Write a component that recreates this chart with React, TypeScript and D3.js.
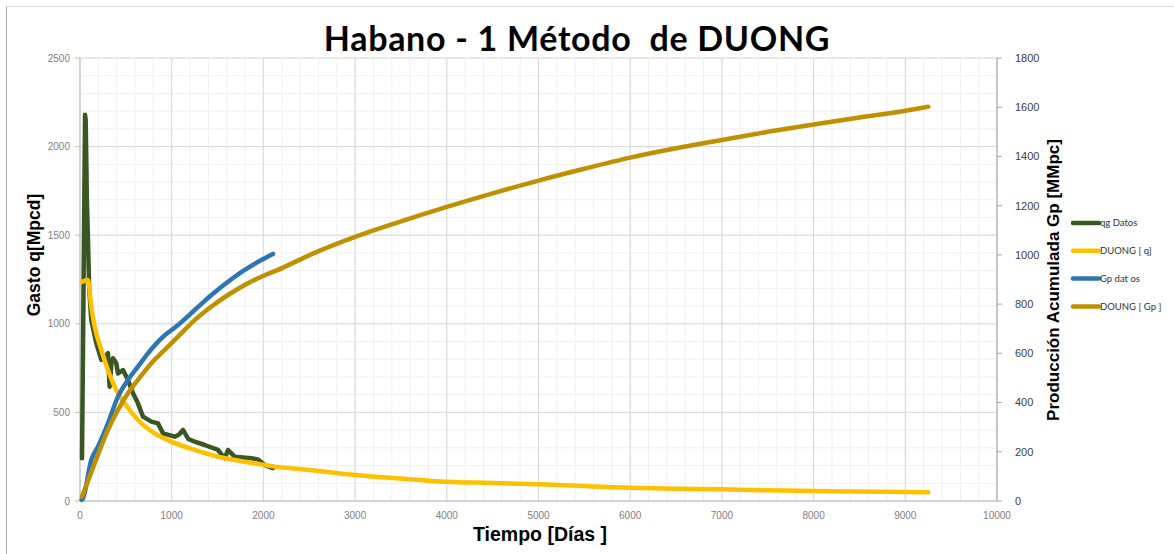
import React from 'react'
import * as d3 from 'd3'

const width = 1174
const height = 554
const margin = {top: 58, right: 177, bottom: 53, left: 80}
const innerWidth = width - margin.left - margin.right
const innerHeight = height - margin.top - margin.bottom

// qg Datos (Mpcd)
const qgDays = [22, 30, 55, 62, 75, 87, 100, 123, 178, 233, 287, 305, 323, 345, 360, 396, 414, 469, 523, 578, 632, 687, 778, 851, 905, 1033, 1080, 1123, 1180, 1251, 1360, 1505, 1578, 1614, 1687, 1868, 1941, 2014, 2105]
const qgValues = [241, 700, 2180, 2150, 1700, 1473, 1200, 1021, 890, 796, 824, 834, 645, 790, 805, 777, 720, 739, 683, 608, 551, 476, 448, 438, 382, 363, 375, 401, 350, 335, 316, 288, 241, 288, 250, 241, 235, 203, 186]

// DUONG [q]
const duongQDays = [22, 87, 123, 160, 233, 305, 378, 487, 632, 814, 996, 1251, 1505, 1796, 2123, 2508, 3000, 3500, 3991, 4500, 5006, 5500, 5998, 6500, 7001, 7500, 7993, 8500, 9250]
const duongQValues = [1237, 1247, 1097, 984, 852, 739, 645, 551, 457, 382, 335, 288, 250, 222, 194, 175, 147, 127, 109, 102, 94, 84, 75, 69, 66, 60, 56, 54, 49]

// Gp datos (MMpc)
const gpDays = [18, 33, 123, 196, 305, 414, 523, 632, 741, 887, 1069, 1251, 1433, 1614, 1796, 1977, 2105]
const gpValues = [4, 11, 167, 221, 316, 424, 492, 546, 600, 661, 715, 776, 837, 891, 939, 979, 1004]

// DOUNG [Gp]
const duongGpDays = [22, 160, 305, 414, 523, 632, 778, 923, 1069, 1251, 1433, 1614, 1796, 1977, 2159, 2508, 3000, 3500, 4000, 4500, 5000, 5500, 6000, 6500, 7000, 7500, 8000, 8500, 9000, 9250]
const duongGpValues = [18, 153, 289, 370, 438, 492, 560, 614, 668, 735, 790, 837, 878, 911, 939, 1000, 1073, 1136, 1195, 1250, 1302, 1350, 1395, 1433, 1467, 1500, 1530, 1558, 1586, 1602]

const xTicks = [0, 1000, 2000, 3000, 4000, 5000, 6000, 7000, 8000, 9000, 10000]
const yLeftTicks = [0, 500, 1000, 1500, 2000, 2500]
const yRightTicks = [0, 200, 400, 600, 800, 1000, 1200, 1400, 1600, 1800]

const legendItems = [
  {label: 'qg Datos', color: '#385723'},
  {label: 'DUONG [ q]', color: '#FFC000'},
  {label: 'Gp dat os', color: '#2E75B6'},
  {label: 'DOUNG [ Gp ]', color: '#BF9000'},
]

const x = d3.scaleLinear().domain([0, 10000]).range([0, innerWidth])
const yLeft = d3.scaleLinear().domain([0, 2500]).range([innerHeight, 0])
const yRight = d3.scaleLinear().domain([0, 1800]).range([innerHeight, 0])

const zip = (a: number[], b: number[]) => a.map((d, i) => [d, b[i]] as [number, number])

const lineLeft = d3.line<[number, number]>().x(d => x(d[0])).y(d => yLeft(d[1]))
const lineLeftSmooth = d3.line<[number, number]>().x(d => x(d[0])).y(d => yLeft(d[1])).curve(d3.curveMonotoneX)
const lineRight = d3.line<[number, number]>().x(d => x(d[0])).y(d => yRight(d[1])).curve(d3.curveMonotoneX)

const tickFont = '"Liberation Sans", Arial, sans-serif'

export default function App() {
  const minorX = d3.range(0, 10001, 200)
  const minorY = d3.range(0, 2501, 100)
  return (
    <div style={{position: 'absolute', left: 0, top: 0}}>
      <svg width={width} height={height} style={{display: 'block', background: '#fff'}}>
        <line x1={6.5} y1={6.5} x2={width} y2={6.5} stroke="#d9d9d9" />
        <line x1={6.5} y1={6.5} x2={6.5} y2={height} stroke="#a6a6a6" />
        <text
          x={577}
          y={51}
          textAnchor="middle"
          style={{whiteSpace: 'pre'}}
          fontFamily='Lato, "Open Sans", sans-serif'
          fontWeight="bold"
          fontSize={34}
          letterSpacing={0.7}
          fill="#000"
        >
          {'Habano - 1 Método  de DUONG'}
        </text>
        <g transform={`translate(${margin.left},${margin.top})`}>
          {minorX.map(v => (
            <line key={'mx' + v} x1={x(v)} x2={x(v)} y1={0} y2={innerHeight} stroke="#f0f0f0" />
          ))}
          {minorY.map(v => (
            <line key={'my' + v} x1={0} x2={innerWidth} y1={yLeft(v)} y2={yLeft(v)} stroke="#f0f0f0" />
          ))}
          {xTicks.map(v => (
            <line key={'gx' + v} x1={x(v)} x2={x(v)} y1={0} y2={innerHeight} stroke="#d9d9d9" />
          ))}
          {yLeftTicks.map(v => (
            <line key={'gy' + v} x1={0} x2={innerWidth} y1={yLeft(v)} y2={yLeft(v)} stroke="#d9d9d9" />
          ))}

          {/* left axis */}
          <line x1={0} x2={0} y1={0} y2={innerHeight} stroke="#bfbfbf" />
          {yLeftTicks.map(v => (
            <g key={'yl' + v} transform={`translate(0,${yLeft(v)})`}>
              <line x1={-5} x2={0} stroke="#bfbfbf" />
              <text x={-10} dy="0.35em" textAnchor="end" fontFamily={tickFont} fontSize={10} fill="#808080">
                {v}
              </text>
            </g>
          ))}
          {/* bottom axis */}
          <line x1={0} x2={innerWidth} y1={innerHeight} y2={innerHeight} stroke="#bfbfbf" />
          {xTicks.map(v => (
            <text key={'xt' + v} x={x(v)} y={innerHeight + 18} textAnchor="middle" fontFamily={tickFont} fontSize={10} fill="#808080">
              {v}
            </text>
          ))}
          {/* right axis */}
          <line x1={innerWidth} x2={innerWidth} y1={0} y2={innerHeight} stroke="#a6a6a6" />
          {yRightTicks.map(v => (
            <g key={'yr' + v} transform={`translate(${innerWidth},${yRight(v)})`}>
              <line x1={0} x2={5} stroke="#a6a6a6" />
              <text x={18} dy="0.35em" fontFamily={tickFont} fontSize={11} fill="#404040">
                {v}
              </text>
            </g>
          ))}

          <path d={lineLeft(zip(qgDays, qgValues)) || ''} fill="none" stroke="#385723" strokeWidth={4.5} strokeLinejoin="round" strokeLinecap="round" />
          <path d={lineLeftSmooth(zip(duongQDays, duongQValues)) || ''} fill="none" stroke="#FFC000" strokeWidth={4.5} strokeLinejoin="round" strokeLinecap="round" />
          <path d={lineRight(zip(gpDays, gpValues)) || ''} fill="none" stroke="#2E75B6" strokeWidth={4.5} strokeLinejoin="round" strokeLinecap="round" />
          <path d={lineRight(zip(duongGpDays, duongGpValues)) || ''} fill="none" stroke="#BF9000" strokeWidth={4.5} strokeLinejoin="round" strokeLinecap="round" />
        </g>

        <text
          transform={`translate(40,255) rotate(-90)`}
          textAnchor="middle"
          fontFamily={tickFont}
          fontWeight="bold"
          fontSize={17.5}
          fill="#000"
        >
          Gasto q[Mpcd]
        </text>
        <text
          transform={`translate(1059,280) rotate(-90)`}
          textAnchor="middle"
          fontFamily={tickFont}
          fontWeight="bold"
          fontSize={17}
          fill="#000"
        >
          Producción Acumulada Gp [MMpc]
        </text>
        <text x={540} y={541} textAnchor="middle" fontFamily={tickFont} fontWeight="bold" fontSize={19.5} fill="#000">
          Tiempo [Días ]
        </text>

        {legendItems.map((d, i) => (
          <g key={d.label} transform={`translate(1073,${223 + i * 27.8})`}>
            <line x1={0} x2={26} stroke={d.color} strokeWidth={4.5} strokeLinecap="round" />
            <text x={27} dy="0.35em" fontFamily='Lato, sans-serif' fontSize={9.5} fill="#333" style={{whiteSpace: 'pre'}}>
              {d.label}
            </text>
          </g>
        ))}
      </svg>
    </div>
  )
}
